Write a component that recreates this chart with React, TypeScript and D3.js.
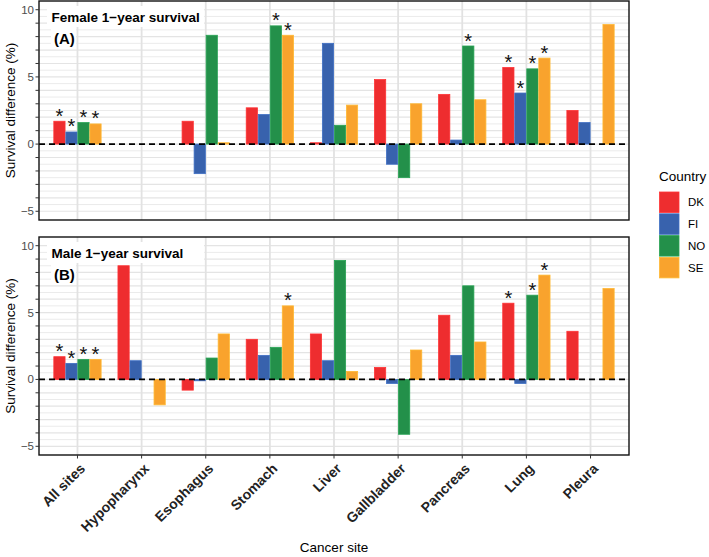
import React from 'react';
import * as d3 from 'd3';

// Cancer sites on the x axis and the four Nordic countries
const sites = ['All sites', 'Hypopharynx', 'Esophagus', 'Stomach', 'Liver', 'Gallbladder', 'Pancreas', 'Lung', 'Pleura'];
const countries = ['DK', 'FI', 'NO', 'SE'];
const countryColors = ['#EE2D2F', '#3862AD', '#23904A', '#F9A32D'];

// Female 1-year survival difference (%), null = not reported
const femaleDK = [1.7, null, 1.7, 2.7, 0.1, 4.8, 3.7, 5.7, 2.5];
const femaleFI = [0.9, null, -2.2, 2.2, 7.5, -1.5, 0.3, 3.8, 1.6];
const femaleNO = [1.6, null, 8.1, 8.8, 1.4, -2.5, 7.3, 5.6, null];
const femaleSE = [1.5, null, 0.1, 8.1, 2.9, 3.0, 3.3, 6.4, 8.9];

// Significance flags (1 = significant) for the female panel
const femaleSigDK = [1, 0, 0, 0, 0, 0, 0, 1, 0];
const femaleSigFI = [1, 0, 0, 0, 0, 0, 0, 1, 0];
const femaleSigNO = [1, 0, 0, 1, 0, 0, 1, 1, 0];
const femaleSigSE = [1, 0, 0, 1, 0, 0, 0, 1, 0];

// Male 1-year survival difference (%)
const maleDK = [1.7, 8.5, -0.8, 3.0, 3.4, 0.9, 4.8, 5.7, 3.6];
const maleFI = [1.2, 1.4, -0.1, 1.8, 1.4, -0.3, 1.8, -0.3, null];
const maleNO = [1.5, null, 1.6, 2.4, 8.9, -4.1, 7.0, 6.3, null];
const maleSE = [1.5, -1.9, 3.4, 5.5, 0.6, 2.2, 2.8, 7.8, 6.8];

// Significance flags for the male panel
const maleSigDK = [1, 0, 0, 0, 0, 0, 0, 1, 0];
const maleSigFI = [1, 0, 0, 0, 0, 0, 0, 0, 0];
const maleSigNO = [1, 0, 0, 0, 0, 0, 0, 1, 0];
const maleSigSE = [1, 0, 0, 1, 0, 0, 0, 1, 0];

const yTickValues = d3.range(-5, 11, 1);
const yLabelValues = [-5, 0, 5, 10];
const yMinorValues = d3.range(-4.5, 10.5, 1);

const panels = [
  { title: 'Female 1\u2212year survival', tag: '(A)', series: [femaleDK, femaleFI, femaleNO, femaleSE], sig: [femaleSigDK, femaleSigFI, femaleSigNO, femaleSigSE], top: 1, bottom: 220 },
  { title: 'Male 1\u2212year survival', tag: '(B)', series: [maleDK, maleFI, maleNO, maleSE], sig: [maleSigDK, maleSigFI, maleSigNO, maleSigSE], top: 237, bottom: 455 },
];

const W = 709;
const H = 557;
const left = 39;
const right = 629;
const font = '"Liberation Sans", Arial, Helvetica, sans-serif';
const fmt = (v: number) => (v < 0 ? '\u2212' + Math.abs(v) : String(v));

function Panel({ p }: { p: typeof panels[number] }) {
  const x = d3.scaleBand<string>().domain(sites).range([left, right]).paddingInner(0).paddingOuter(0.1);
  const step = x.step();
  const inner = d3.scaleBand<string>().domain(countries).range([-0.375 * step, 0.375 * step]);
  const y = d3.scaleLinear().domain([-5.65, 10.65]).range([p.bottom, p.top]);
  const cx = (s: string) => (x(s) as number) + x.bandwidth() / 2;

  return (
    <g>
      {/* panel grid */}
      {yMinorValues.map((v) => (
        <line key={'mn' + v} x1={left} x2={right} y1={y(v)} y2={y(v)} stroke="#EBEBEB" strokeWidth={1} />
      ))}
      {yTickValues.map((v) => (
        <line key={'mj' + v} x1={left} x2={right} y1={y(v)} y2={y(v)} stroke="#E4E4E4" strokeWidth={1.2} />
      ))}
      {sites.map((s) => (
        <line key={'vx' + s} x1={cx(s)} x2={cx(s)} y1={p.top} y2={p.bottom} stroke="#E2E2E2" strokeWidth={1.8} />
      ))}

      {/* panel labels on white boxes */}
      <rect x={47} y={p.top + 5} width={157} height={21} fill="#fff" />
      <rect x={51} y={p.top + 28} width={25} height={20} fill="#fff" />
      <text x={51.5} y={p.top + 20.8} fontFamily={font} fontWeight="bold" fontSize={13.5} fill="#000">{p.title}</text>
      <text x={54} y={p.top + 43} fontFamily={font} fontWeight="bold" fontSize={15} fill="#000">{p.tag}</text>

      {/* bars */}
      {p.series.map((vals, ci) =>
        vals.map((v, si) => {
          if (v === null) return null;
          const bx = cx(sites[si]) + (inner(countries[ci]) as number);
          const y0 = y(0);
          const y1 = y(v);
          const col = countryColors[ci];
          return (
            <rect
              key={ci + '-' + si}
              x={bx + 0.4}
              y={Math.min(y0, y1)}
              width={inner.bandwidth() - 0.8}
              height={Math.max(Math.abs(y1 - y0), 0.8)}
              fill={col}
              stroke={d3.color(col)!.brighter(0.35).formatHex()}
              strokeWidth={0.8}
            />
          );
        })
      )}

      {/* significance stars */}
      {p.sig.map((flags, ci) =>
        flags.map((f, si) => {
          const v = p.series[ci][si];
          if (!f || v === null) return null;
          const bx = cx(sites[si]) + (inner(countries[ci]) as number) + inner.bandwidth() / 2;
          return (
            <text key={'st' + ci + '-' + si} x={bx} y={y(Math.max(v, 0)) + 1.5} textAnchor="middle" fontFamily={font} fontSize={20} fill="#111">*</text>
          );
        })
      )}

      {/* zero reference line */}
      <line x1={left} x2={right} y1={y(0)} y2={y(0)} stroke="#000" strokeWidth={1.8} strokeDasharray="6,4" />

      {/* panel border */}
      <rect x={left} y={p.top} width={right - left} height={p.bottom - p.top} fill="none" stroke="#111" strokeWidth={1.4} />

      {/* y axis */}
      {yTickValues.map((v) => (
        <line key={'tk' + v} x1={left - 3.5} x2={left} y1={y(v)} y2={y(v)} stroke="#333" strokeWidth={1} />
      ))}
      {yLabelValues.map((v) => (
        <text key={'yl' + v} x={left - 5} y={y(v)} dy="0.35em" textAnchor="end" fontFamily={font} fontSize={11.5} fill="#4D4D4D">{fmt(v)}</text>
      ))}
      <text
        transform={`translate(${14.5},${(p.top + p.bottom) / 2}) rotate(-90)`}
        textAnchor="middle"
        fontFamily={font}
        fontSize={13.5}
        fill="#000"
      >
        Survival difference (%)
      </text>
    </g>
  );
}

export default function App() {
  const x = d3.scaleBand<string>().domain(sites).range([left, right]).paddingInner(0).paddingOuter(0.1);
  const bottom = panels[1].bottom;
  return (
    <svg width={W} height={H} style={{ position: 'absolute', left: 0, top: 0, background: '#fff' }}>
      <rect width={W} height={H} fill="#fff" />
      {panels.map((p) => (
        <Panel key={p.tag} p={p} />
      ))}

      {/* x axis category labels, rotated 45 degrees */}
      {sites.map((s) => {
        const c = (x(s) as number) + x.bandwidth() / 2;
        return (
          <g key={'xt' + s}>
            <line x1={c} x2={c} y1={bottom} y2={bottom + 3.5} stroke="#333" strokeWidth={1} />
            <g transform={`translate(${c + 1},${bottom + 7}) rotate(-45)`}>
              <text textAnchor="end" dy="0.75em" fontFamily={font} fontWeight="bold" fontSize={14} fill="#222">
                {s}
              </text>
            </g>
          </g>
        );
      })}
      <text x={(left + right) / 2} y={552} textAnchor="middle" fontFamily={font} fontSize={13.5} fill="#000">Cancer site</text>

      {/* legend */}
      <text x={659} y={180.5} fontFamily={font} fontSize={13.5} fill="#000">Country</text>
      {countries.map((c, i) => (
        <g key={'lg' + c}>
          <rect x={659.5} y={192 + i * 21.8} width={19.5} height={20.5} fill={countryColors[i]} stroke={d3.color(countryColors[i])!.brighter(0.35).formatHex()} strokeWidth={0.8} />
          <text x={688} y={192 + i * 21.8 + 10.25} dy="0.35em" fontFamily={font} fontSize={11.5} fill="#000">{c}</text>
        </g>
      ))}
    </svg>
  );
}
